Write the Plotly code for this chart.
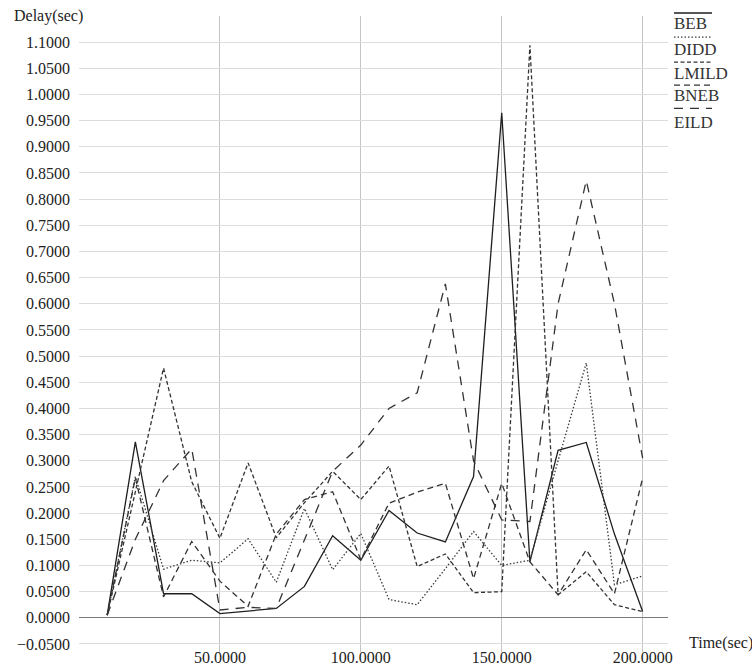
import plotly.graph_objects as go

# Simulation time (sec)
time_sec = [10, 20, 30, 40, 50, 60, 70, 80, 90, 100,
            110, 120, 130, 140, 150, 160, 170, 180, 190, 200]

# Average delay (sec) per scheme
beb = [0.005, 0.336, 0.046, 0.046, 0.008, 0.013, 0.018, 0.060, 0.157, 0.110,
       0.205, 0.162, 0.145, 0.270, 0.965, 0.107, 0.320, 0.335, 0.160, 0.012]
didd = [0.005, 0.270, 0.093, 0.110, 0.105, 0.151, 0.068, 0.209, 0.092, 0.161,
        0.035, 0.025, 0.094, 0.165, 0.100, 0.110, 0.300, 0.487, 0.063, 0.080]
lmild = [0.005, 0.240, 0.477, 0.260, 0.152, 0.296, 0.153, 0.220, 0.280, 0.226,
         0.290, 0.098, 0.122, 0.048, 0.050, 1.094, 0.044, 0.088, 0.025, 0.012]
bneb = [0.005, 0.267, 0.040, 0.146, 0.070, 0.022, 0.160, 0.226, 0.241, 0.111,
        0.219, 0.240, 0.257, 0.075, 0.257, 0.107, 0.044, 0.130, 0.046, 0.267]
eild = [0.005, 0.150, 0.262, 0.323, 0.015, 0.020, 0.018, 0.150, 0.280, 0.330,
        0.400, 0.430, 0.638, 0.300, 0.187, 0.184, 0.600, 0.835, 0.600, 0.305]

series_names = ["BEB", "DIDD", "LMILD", "BNEB", "EILD"]
series_values = [beb, didd, lmild, bneb, eild]
series_dash = ["solid", "1.5px,2px", "4px,2.5px", "6px,4px", "9px,7px"]
series_color = ["#1e1e1e", "#3a3a3a", "#333333", "#333333", "#333333"]

y_ticks = [round(-0.05 + 0.05 * i, 2) for i in range(24)]
x_ticks = [50, 100, 150, 200]

SERIF = "Liberation Serif, Times New Roman, serif"

fig = go.Figure()
for name, vals, dash, col in zip(series_names, series_values, series_dash, series_color):
    fig.add_trace(go.Scatter(
        x=time_sec, y=vals, name=name, mode="lines",
        line=dict(color=col, width=1.3, dash=dash),
        showlegend=False,
    ))

# Hand-drawn key on the right: a line sample above each scheme name
key_y_line = [1.0047, 0.9669, 0.9274, 0.8912, 0.8549]
key_y_text = [0.9876, 0.9472, 0.9095, 0.8756, 0.8330]
for name, dash, col, yl, yt in zip(series_names, series_dash, series_color,
                                   key_y_line, key_y_text):
    fig.add_shape(type="line", xref="paper", yref="paper",
                  x0=1.0102, x1=1.0747, y0=yl, y1=yl,
                  line=dict(color=col, width=1.3, dash=dash))
    fig.add_annotation(text=name, xref="paper", yref="paper",
                       x=1.0075, y=yt, xanchor="left", yanchor="middle",
                       showarrow=False,
                       font=dict(family=SERIF, size=17, color="#333333"))

fig.add_annotation(text="Delay(sec)", xref="paper", yref="paper",
                   x=-0.1138, y=1.0, xanchor="left", yanchor="middle",
                   showarrow=False, font=dict(family=SERIF, size=16, color="#222222"))
fig.add_annotation(text="Time(sec)", xref="paper", yref="paper",
                   x=1.0323, y=0.0135, xanchor="left", yanchor="middle",
                   showarrow=False, font=dict(family=SERIF, size=16, color="#222222"))

fig.update_layout(
    width=752, height=671,
    margin=dict(l=79, r=84, t=16, b=19, autoexpand=False),
    paper_bgcolor="white", plot_bgcolor="white",
    font=dict(family=SERIF, size=16, color="#222222"),
    xaxis=dict(range=[0, 209], tickvals=x_ticks, tickformat=".4f",
               showgrid=True, gridcolor="#c4c4c4", gridwidth=1,
               zeroline=False, showline=False, ticks="",
               ticklabelstandoff=-6, automargin=False),
    yaxis=dict(range=[-0.0653, 1.1498], tickvals=y_ticks, tickformat=".4f",
               showgrid=True, gridcolor="#dcdcdc", gridwidth=1.2,
               zeroline=True, zerolinecolor="#7a7a7a", zerolinewidth=1.3,
               showline=False, ticks="", ticklabelstandoff=8, automargin=False),
)

fig.write_html("out.html")
